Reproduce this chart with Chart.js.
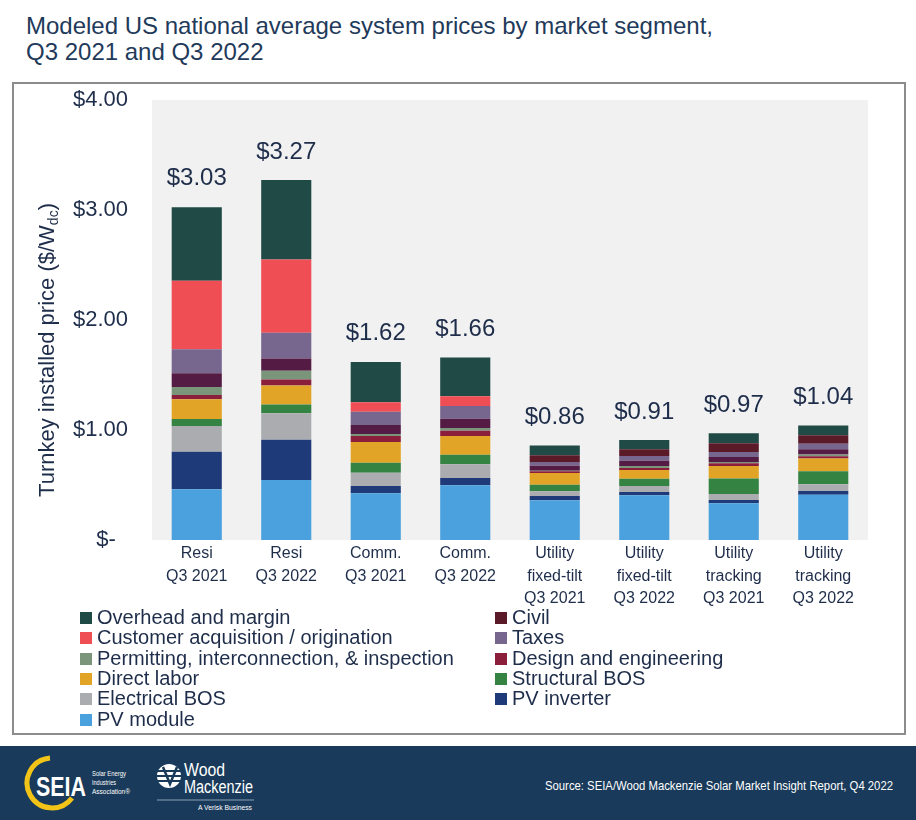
<!DOCTYPE html>
<html>
<head>
<meta charset="utf-8">
<script src="https://cdn.jsdelivr.net/npm/chart.js@4.4.1/dist/chart.umd.min.js"></script>
<style>
body{margin:0;width:916px;height:820px;position:relative;background:#fff;font-family:'Liberation Sans',Arial,sans-serif;overflow:hidden}
#title{position:absolute;left:26px;top:13px;font-size:24px;line-height:26px;color:#1f3a5a}
#box{position:absolute;left:12px;top:82px;width:890px;height:649px;border:2px solid #8c8c8c}
#wrap{position:absolute;left:0;top:0;width:916px;height:610px}
#legend{position:absolute;left:0;top:0}
.li{position:absolute;font-size:20px;line-height:20px;color:#1e2d4a;white-space:nowrap}
.li span{display:inline-block;width:12px;height:12px;margin-right:5px;vertical-align:0px}
#footer{position:absolute;left:0;top:746px;width:916px;height:74px;background:#193a5a}
</style>
</head>
<body>
<div id="title">Modeled US national average system prices by market segment,<br>Q3 2021 and Q3 2022</div>
<div id="box"></div>
<div id="wrap"><canvas id="chart" width="916" height="610"></canvas></div>
<div id="legend"></div>
<div id="footer">
  <svg width="916" height="74" style="position:absolute;left:0;top:0" font-family="Liberation Sans, Arial, sans-serif" fill="#fff">
    <path d="M50 12 A25 25 0 1 0 72 52" fill="none" stroke="#f2c417" stroke-width="5"/>
    <text x="36" y="50" font-weight="bold" font-size="27" textLength="50" lengthAdjust="spacingAndGlyphs">SEIA</text>
    <text x="92" y="30" font-size="6.5" textLength="34" lengthAdjust="spacingAndGlyphs">Solar Energy</text>
    <text x="92" y="39" font-size="6.5" textLength="24" lengthAdjust="spacingAndGlyphs">Industries</text>
    <text x="92" y="48" font-size="6.5" textLength="38" lengthAdjust="spacingAndGlyphs">Association®</text>
    <circle cx="169" cy="30" r="12" fill="#fff"/>
    <path d="M157 25 H181 M157 30 H181 M157 35 H181" stroke="#193a5a" stroke-width="2"/>
    <path d="M163 21 L170 38 L177 21" fill="none" stroke="#193a5a" stroke-width="2.5"/>
    <text x="184" y="30" font-size="18" textLength="41" lengthAdjust="spacingAndGlyphs">Wood</text>
    <text x="184" y="47" font-size="18" textLength="69" lengthAdjust="spacingAndGlyphs">Mackenzie</text>
    <line x1="157" y1="54" x2="254" y2="54" stroke="#8aa0b6" stroke-width="1"/>
    <text x="198" y="64" font-size="7" textLength="54" lengthAdjust="spacingAndGlyphs">A Verisk Business</text>
    <text x="545" y="44" font-size="13.5" textLength="348" lengthAdjust="spacingAndGlyphs">Source: SEIA/Wood Mackenzie Solar Market Insight Report, Q4 2022</text>
  </svg>
</div>
<script>
// categories and totals
var categories = [['Resi','Q3 2021'],['Resi','Q3 2022'],['Comm.','Q3 2021'],['Comm.','Q3 2022'],
  ['Utility','fixed-tilt','Q3 2021'],['Utility','fixed-tilt','Q3 2022'],['Utility','tracking','Q3 2021'],['Utility','tracking','Q3 2022']];
var totals = [3.03, 3.27, 1.62, 1.66, 0.86, 0.91, 0.97, 1.04];
var yTicks = [0, 1, 2, 3, 4];

// cost components ($/Wdc), bottom of stack first
var pvModule     = [0.461, 0.545, 0.425, 0.497, 0.361, 0.406, 0.334, 0.412];
var pvInverter   = [0.342, 0.366, 0.066, 0.066, 0.039, 0.030, 0.030, 0.034];
var electricalBOS= [0.234, 0.242, 0.121, 0.125, 0.043, 0.055, 0.055, 0.061];
var structuralBOS= [0.064, 0.079, 0.091, 0.087, 0.060, 0.066, 0.139, 0.118];
var directLabor  = [0.179, 0.173, 0.188, 0.170, 0.106, 0.079, 0.115, 0.115];
var designEng    = [0.039, 0.055, 0.055, 0.048, 0.015, 0.018, 0.025, 0.022];
var permitting   = [0.073, 0.079, 0.018, 0.025, 0.005, 0.018, 0.012, 0.015];
var other        = [0.125, 0.112, 0.082, 0.085, 0.045, 0.048, 0.045, 0.049];
var taxes        = [0.218, 0.234, 0.121, 0.115, 0.036, 0.043, 0.045, 0.048];
var customerAcq  = [0.621, 0.664, 0.085, 0.088, 0, 0, 0, 0];
var civil        = [0, 0, 0, 0, 0.061, 0.061, 0.079, 0.079];
var overhead     = [0.670, 0.724, 0.366, 0.354, 0.089, 0.086, 0.091, 0.087];

var series = [
  {label: 'PV module', data: pvModule, color: '#4aa1de'},
  {label: 'PV inverter', data: pvInverter, color: '#1f3a78'},
  {label: 'Electrical BOS', data: electricalBOS, color: '#abacaf'},
  {label: 'Structural BOS', data: structuralBOS, color: '#358343'},
  {label: 'Direct labor', data: directLabor, color: '#e1a427'},
  {label: 'Design and engineering', data: designEng, color: '#8b1f3b'},
  {label: 'Permitting, interconnection, & inspection', data: permitting, color: '#7a957a'},
  {label: 'Other', data: other, color: '#541c45', hidden: true},
  {label: 'Taxes', data: taxes, color: '#77668e'},
  {label: 'Customer acquisition / origination', data: customerAcq, color: '#ef4e55'},
  {label: 'Civil', data: civil, color: '#5a1a28'},
  {label: 'Overhead and margin', data: overhead, color: '#1f4a45'}
];

var textColor = '#1e2d4a';
var sans = "'Liberation Sans',Arial,sans-serif";

// html legend, two columns, top of stack first
var legendEl = document.getElementById('legend');
var items = series.filter(function(s){ return !s.hidden; }).reverse();
for (var i = 0; i < items.length; i++) {
  var d = document.createElement('div');
  d.className = 'li';
  d.style.left = (i % 2 == 0 ? 80 : 495) + 'px';
  d.style.top = (607 + Math.floor(i / 2) * 20.3) + 'px';
  d.innerHTML = '<span style="background:' + items[i].color + '"></span>' + items[i].label;
  legendEl.appendChild(d);
}

var plotBg = {
  id: 'plotBg',
  beforeDraw: function(chart) {
    var a = chart.chartArea, ctx = chart.ctx;
    ctx.save();
    ctx.fillStyle = '#f1f1f1';
    ctx.fillRect(a.left, a.top, a.right - a.left, a.bottom - a.top);
    ctx.restore();
  }
};

var extras = {
  id: 'extras',
  afterDatasetsDraw: function(chart) {
    var ctx = chart.ctx, y = chart.scales.y, meta = chart.getDatasetMeta(0);
    ctx.save();
    ctx.fillStyle = textColor;
    ctx.font = '24px ' + sans;
    ctx.textAlign = 'center';
    ctx.textBaseline = 'middle';
    for (var i = 0; i < totals.length; i++) {
      ctx.fillText('$' + totals[i].toFixed(2), meta.data[i].x, y.getPixelForValue(totals[i]) - 28);
    }
    // rotated axis title with subscript
    ctx.translate(48, 350);
    ctx.rotate(-Math.PI / 2);
    ctx.textAlign = 'left';
    ctx.font = '22px ' + sans;
    var t1 = 'Turnkey installed price ($/W', t3 = ')';
    var w1 = ctx.measureText(t1).width, w3 = ctx.measureText(t3).width;
    ctx.font = '14px ' + sans;
    var w2 = ctx.measureText('dc').width;
    var x0 = -(w1 + w2 + w3) / 2;
    ctx.font = '22px ' + sans;
    ctx.fillText(t1, x0, 0);
    ctx.font = '14px ' + sans;
    ctx.fillText('dc', x0 + w1, 6);
    ctx.font = '22px ' + sans;
    ctx.fillText(t3, x0 + w1 + w2, 0);
    ctx.restore();
  }
};

new Chart(document.getElementById('chart'), {
  type: 'bar',
  data: {
    labels: categories,
    datasets: series.map(function(s) {
      return {label: s.label, data: s.data, backgroundColor: s.color, borderWidth: 0,
              barPercentage: 0.56, categoryPercentage: 1};
    })
  },
  options: {
    responsive: false,
    animation: false,
    layout: {padding: {left: 0, right: 48, top: 100, bottom: 0}},
    plugins: {legend: {display: false}, tooltip: {enabled: false}},
    scales: {
      x: {
        stacked: true,
        grid: {display: false, drawTicks: false},
        border: {display: false},
        ticks: {color: textColor, font: {family: sans, size: 16, lineHeight: 1.38}, padding: 3,
                maxRotation: 0, autoSkip: false},
        afterFit: function(s) { s.height = 70; }
      },
      y: {
        stacked: true,
        min: 0, max: 4,
        grid: {display: false, drawTicks: false},
        border: {display: false},
        afterBuildTicks: function(s) { s.ticks = yTicks.map(function(v){ return {value: v}; }); },
        ticks: {color: textColor, font: {family: sans, size: 22}, padding: 24,
                callback: function(v) { return v === 0 ? '$-  ' : '$' + v.toFixed(2); }},
        afterFit: function(s) { s.width = 152; }
      }
    }
  },
  plugins: [plotBg, extras]
});
</script>
</body>
</html>
